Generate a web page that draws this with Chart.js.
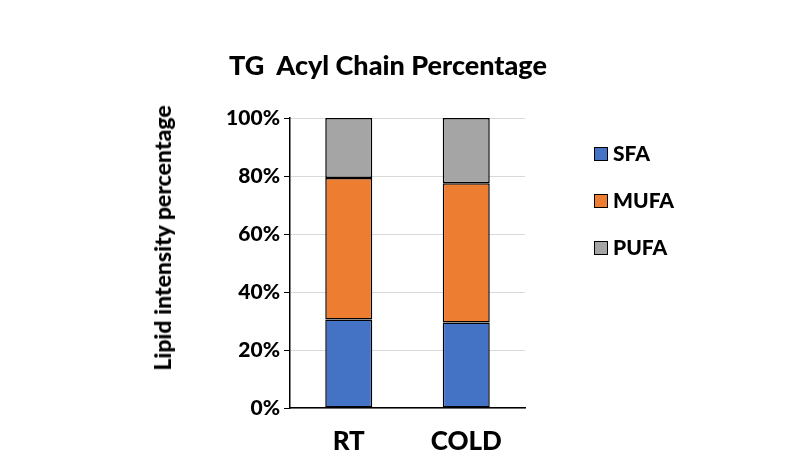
<!DOCTYPE html>
<html><head><meta charset="utf-8">
<script src="https://cdn.jsdelivr.net/npm/chart.js@4"></script>
<style>
body{margin:0;width:793px;height:458px;background:#fff;position:relative;overflow:hidden;font-family:Lato,"Open Sans",sans-serif;font-weight:900;color:#000}
#c{position:absolute;left:0;top:0}
.t{position:absolute;white-space:nowrap}
.lg{position:absolute;left:594px;font-size:21px}
.lg span{display:inline-block;width:12px;height:12px;border:1px solid #000;margin-right:5px;vertical-align:0px}
</style></head><body>
<canvas id="c" width="793" height="458"></canvas>
<div class="t" style="left:0;width:776px;text-align:center;top:48px;font-size:27px">TG&nbsp; Acyl Chain Percentage</div>
<div class="t" style="left:162px;top:238px;font-size:23px;transform:translate(-50%,-50%) rotate(-90deg)">Lipid intensity percentage</div>
<div class="lg" style="top:140px"><span style="background:#4472C4"></span>SFA</div>
<div class="lg" style="top:187px"><span style="background:#ED7D31"></span>MUFA</div>
<div class="lg" style="top:234px"><span style="background:#A5A5A5"></span>PUFA</div>
<script>
const categories=["RT","COLD"];
const SFA=[30.5,29.5];
const MUFA=[48.8,48.0];
const PUFA=[20.7,22.5];
const yTicks=[0,20,40,60,80,100];
const mk=(l,d,c)=>({label:l,data:d,backgroundColor:c,borderColor:"#000",borderWidth:1.5,borderSkipped:false,barPercentage:0.4,categoryPercentage:1});
new Chart(document.getElementById("c"),{type:"bar",
data:{labels:categories,datasets:[mk("SFA",SFA,"#4472C4"),mk("MUFA",MUFA,"#ED7D31"),mk("PUFA",PUFA,"#A5A5A5")]},
options:{responsive:false,animation:false,devicePixelRatio:1,
layout:{padding:{left:0,right:268,top:118,bottom:0}},
plugins:{legend:{display:false},tooltip:{enabled:false}},
scales:{
x:{stacked:true,afterFit:s=>{s.height=50},grid:{display:false},border:{color:"#000",width:1.5},
 ticks:{color:"#000",font:{family:"Lato",weight:900,size:26},padding:10}},
y:{stacked:true,min:0,max:100,afterFit:s=>{s.width=290},
 afterBuildTicks:s=>{s.ticks=yTicks.map(v=>({value:v}))},
 grid:{color:"#d9d9d9",tickLength:6,tickColor:"#000"},border:{color:"#000",width:1.5},
 ticks:{color:"#000",font:{family:"Lato",weight:900,size:21},callback:v=>v+"%",padding:4}}
}}});
</script></body></html>
